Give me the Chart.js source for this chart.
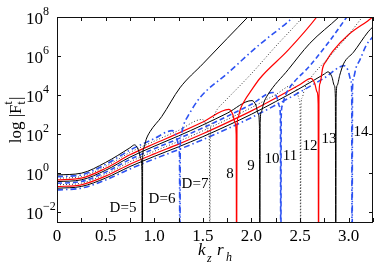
<!DOCTYPE html>
<html>
<head>
<meta charset="utf-8">
<script src="https://cdn.jsdelivr.net/npm/chart.js@4.4.1/dist/chart.umd.min.js"></script>
<style>
  html, body { margin: 0; padding: 0; background: #fff; }
  #wrap { width: 382px; height: 267px; }
</style>
</head>
<body>
<div id="wrap"><canvas id="myChart"></canvas></div>
<script>
// D of each curve, and the k_z r_h where its F vanishes
const dValues = [5, 6, 7, 8, 9, 10, 11, 12, 13, 14];
const zeroK = [0.877, 1.264, 1.572, 1.847, 2.086, 2.302, 2.505, 2.69, 2.867, 3.035];

// [k_z r_h, log10 |F|] (-6 = the zero, far below the axis)
const curve5 = [[0,-0.09],[0.25,0.0],[0.5,0.55],[0.75,1.3],[0.797,1.45],[0.837,1.2],[0.862,0.75],[0.873,0.15],[0.877,-6],
  [0.881,0.73],[0.892,1.28],[0.917,1.73],[0.957,2.13],[1.077,2.9],[1.264,4.37],[1.5,5.6],[1.75,6.9],[1.963,8.0],[2.0,8.2]];
const curve6 = [[0,-0.175],[0.25,-0.085],[0.5,0.45],[0.75,1.18],[1.0,1.77],[1.184,2.18],[1.224,1.93],[1.249,1.48],[1.26,0.88],[1.264,-6],
  [1.268,1.5],[1.279,2.05],[1.304,2.5],[1.344,2.9],[1.469,3.86],[1.75,5.1],[2.086,6.6],[2.377,7.76],[2.45,8.1]];
const curve7 = [[0,-0.26],[0.25,-0.17],[0.5,0.35],[0.75,1.06],[1.0,1.64],[1.25,2.19],[1.492,2.75],[1.532,2.5],[1.557,2.05],[1.568,1.45],[1.572,-6],
  [1.576,1.9],[1.587,2.45],[1.612,2.9],[1.652,3.3],[1.709,3.6],[2.0,5.1],[2.25,6.5],[2.528,8.0],[2.56,8.2]];
const curve8 = [[0,-0.345],[0.25,-0.255],[0.5,0.25],[0.75,0.94],[1.0,1.51],[1.25,2.05],[1.5,2.62],[1.767,3.27],[1.807,3.02],[1.832,2.57],[1.843,1.97],[1.847,-6],
  [1.851,2.3],[1.862,2.85],[1.887,3.3],[1.927,3.7],[2.0,4.25],[2.086,4.85],[2.377,6.3],[2.672,8.0],[2.7,8.2]];
const curve9 = [[0,-0.43],[0.25,-0.34],[0.5,0.15],[0.75,0.82],[1.0,1.38],[1.25,1.91],[1.5,2.47],[1.75,3.07],[2.006,3.72],[2.046,3.47],[2.071,3.02],[2.082,2.42],[2.086,-6],
  [2.09,2.6],[2.101,3.15],[2.126,3.6],[2.166,4.0],[2.377,5.3],[2.6,6.65],[2.9,8.0],[2.94,8.2]];
const curve10 = [[0,-0.515],[0.25,-0.425],[0.5,0.05],[0.75,0.7],[1.0,1.25],[1.25,1.77],[1.5,2.32],[1.75,2.91],[2.0,3.53],[2.222,4.13],[2.262,3.88],[2.287,3.43],[2.298,2.83],[2.302,-6],
  [2.306,2.9],[2.317,3.45],[2.342,3.9],[2.382,4.3],[2.6,5.5],[2.8,6.75],[2.98,8.0],[3.0,8.15]];
const curve11 = [[0,-0.6],[0.25,-0.51],[0.5,-0.05],[0.75,0.58],[1.0,1.12],[1.25,1.63],[1.5,2.17],[1.75,2.75],[2.0,3.36],[2.25,4.03],[2.425,4.51],[2.465,4.26],[2.49,3.81],[2.501,3.21],[2.505,-6],
  [2.509,3.3],[2.52,3.85],[2.545,4.3],[2.585,4.7],[2.8,5.95],[3.0,7.1],[3.14,8.0],[3.17,8.2]];
const curve12 = [[0,-0.685],[0.25,-0.595],[0.5,-0.15],[0.75,0.46],[1.0,0.99],[1.25,1.49],[1.5,2.02],[1.75,2.59],[2.0,3.19],[2.25,3.85],[2.5,4.54],[2.61,4.86],[2.65,4.61],[2.675,4.16],[2.686,3.56],[2.69,-6],
  [2.694,3.9],[2.705,4.6],[2.733,5.4],[2.77,5.75],[2.837,6.25],[3.0,7.1],[3.196,7.8],[3.25,8.0]];
const curve13 = [[0,-0.77],[0.25,-0.68],[0.5,-0.25],[0.75,0.34],[1.0,0.86],[1.25,1.35],[1.5,1.87],[1.75,2.43],[2.0,3.02],[2.25,3.67],[2.5,4.35],[2.75,5.08],[2.787,5.19],[2.827,4.94],[2.852,4.49],[2.863,3.89],[2.867,-6],
  [2.871,3.9],[2.882,4.5],[2.907,5.0],[2.947,5.6],[3.05,6.2],[3.2,7.24],[3.25,7.5]];
const curve14 = [[0,-0.855],[0.25,-0.765],[0.5,-0.35],[0.75,0.22],[1.0,0.73],[1.25,1.21],[1.5,1.72],[1.75,2.27],[2.0,2.85],[2.25,3.49],[2.5,4.16],[2.75,4.88],[2.955,5.5],[2.995,5.25],[3.02,4.8],[3.031,4.2],[3.035,-6],
  [3.039,4.3],[3.05,4.9],[3.075,5.4],[3.115,5.8],[3.18,6.55],[3.25,7.0]];

const curves = [curve5, curve6, curve7, curve8, curve9, curve10, curve11, curve12, curve13, curve14];

const xTickVals = [0, 0.5, 1.0, 1.5, 2.0, 2.5, 3.0];
const xTickLabels = ['0', '0.5', '1.0', '1.5', '2.0', '2.5', '3.0'];
const yTickExp = [-2, 0, 2, 4, 6, 8];
const curveLabels = ['D=5', 'D=6', 'D=7', '8', '9', '10', '11', '12', '13', '14'];

// line look per curve
const BLUE = '#2c52f2';
const styles = {
  solidBlack: { borderColor: '#000', borderWidth: 1, borderDash: [] },
  solidRed:   { borderColor: '#f00', borderWidth: 1.2, borderDash: [] },
  dotted:     { borderColor: '#333', borderWidth: 1, borderDash: [1, 2] },
  dashDot:    { borderColor: BLUE, borderWidth: 1.6, borderDash: [6, 3, 1.5, 3] },
  dashed:     { borderColor: BLUE, borderWidth: 1.6, borderDash: [5, 3] }
};
const styleOf = ['solidBlack', 'dashDot', 'dotted', 'solidRed', 'solidBlack', 'dashed', 'dotted', 'solidRed', 'solidBlack', 'dashDot'];

const datasets = curves.map((c, i) => Object.assign({
  label: curveLabels[i],
  data: c.map(p => ({ x: p[0], y: p[1] })),
  pointRadius: 0,
  fill: false,
  cubicInterpolationMode: 'monotone',
  clip: 0
}, styles[styleOf[i]]));

const SERIF = '"Liberation Serif", "DejaVu Serif", serif';

const framePlugin = {
  id: 'frame',
  afterDraw(chart) {
    const ctx = chart.ctx;
    const a = chart.chartArea;
    const xs = chart.scales.x, ys = chart.scales.y;
    ctx.save();
    ctx.strokeStyle = '#111';
    ctx.lineWidth = 1;
    ctx.strokeRect(a.left + 0.5, a.top + 0.5, a.right - a.left - 1, a.bottom - a.top);

    // inward ticks on all four sides
    ctx.beginPath();
    for (let v = 0; v <= 3.25001; v += 0.25) {
      const px = Math.round(xs.getPixelForValue(v)) + 0.5;
      ctx.moveTo(px, a.bottom); ctx.lineTo(px, a.bottom - 4);
      ctx.moveTo(px, a.top); ctx.lineTo(px, a.top + 4);
    }
    yTickExp.forEach(e => {
      const py = Math.round(ys.getPixelForValue(e)) + 0.5;
      ctx.moveTo(a.left, py); ctx.lineTo(a.left + 4, py);
      ctx.moveTo(a.right, py); ctx.lineTo(a.right - 4, py);
    });
    ctx.stroke();

    ctx.fillStyle = '#000';
    // x tick labels
    ctx.font = '17px ' + SERIF;
    ctx.textAlign = 'center';
    ctx.textBaseline = 'alphabetic';
    xTickVals.forEach((v, i) => {
      ctx.fillText(xTickLabels[i], xs.getPixelForValue(v), 241);
    });

    // y tick labels 10^n
    yTickExp.forEach(e => {
      const py = ys.getPixelForValue(e);
      ctx.font = '17px ' + SERIF;
      ctx.textAlign = 'right';
      ctx.fillText('10', 43, py + 7);
      ctx.font = '12px ' + SERIF;
      ctx.textAlign = 'left';
      ctx.fillText(e < 0 ? '\u2212' + (-e) : String(e), 43, py - 2);
    });

    // x axis title  k_z r_h
    ctx.textAlign = 'left';
    ctx.font = 'italic 17px ' + SERIF;
    ctx.fillText('k', 198, 255);
    ctx.fillText('r', 217, 255);
    ctx.font = 'italic 12px ' + SERIF;
    ctx.fillText('z', 207, 262);
    ctx.fillText('h', 226, 261);

    // y axis title  log |F_t^t|
    ctx.save();
    ctx.translate(16, 120);
    ctx.rotate(-Math.PI / 2);
    ctx.font = '17px ' + SERIF;
    const w1 = ctx.measureText('log |F').width;
    const w3 = ctx.measureText('|').width;
    ctx.font = '12px ' + SERIF;
    const w2 = ctx.measureText('t').width + 1;
    let u = -(w1 + w2 + w3) / 2;
    ctx.font = '17px ' + SERIF;
    ctx.fillText('log |F', u, 5);
    u += w1;
    ctx.font = '12px ' + SERIF;
    ctx.fillText('t', u, -4);
    ctx.fillText('t', u, 9);
    u += w2;
    ctx.font = '17px ' + SERIF;
    ctx.fillText('|', u, 5);
    ctx.restore();

    // curve labels
    ctx.font = '15px ' + SERIF;
    ctx.textAlign = 'center';
    ctx.textBaseline = 'middle';
    const labelPos = [[123, 208], [162, 199], [195, 184], [230, 174], [251, 166], [272, 159], [290, 156], [310, 146], [329, 139], [361, 132]];
    labelPos.forEach((p, i) => ctx.fillText(curveLabels[i], p[0], p[1]));
    ctx.restore();
  }
};

new Chart(document.getElementById('myChart').getContext('2d'), {
  type: 'line',
  data: { datasets: datasets },
  options: {
    responsive: true,
    maintainAspectRatio: false,
    animation: false,
    layout: { padding: { left: 57, right: 9, top: 17, bottom: 45 } },
    plugins: { legend: { display: false }, tooltip: { enabled: false } },
    scales: {
      x: { type: 'linear', min: 0, max: 3.25, display: false },
      y: { type: 'linear', min: -2.5, max: 8, display: false }
    }
  },
  plugins: [framePlugin]
});
</script>
</body>
</html>
